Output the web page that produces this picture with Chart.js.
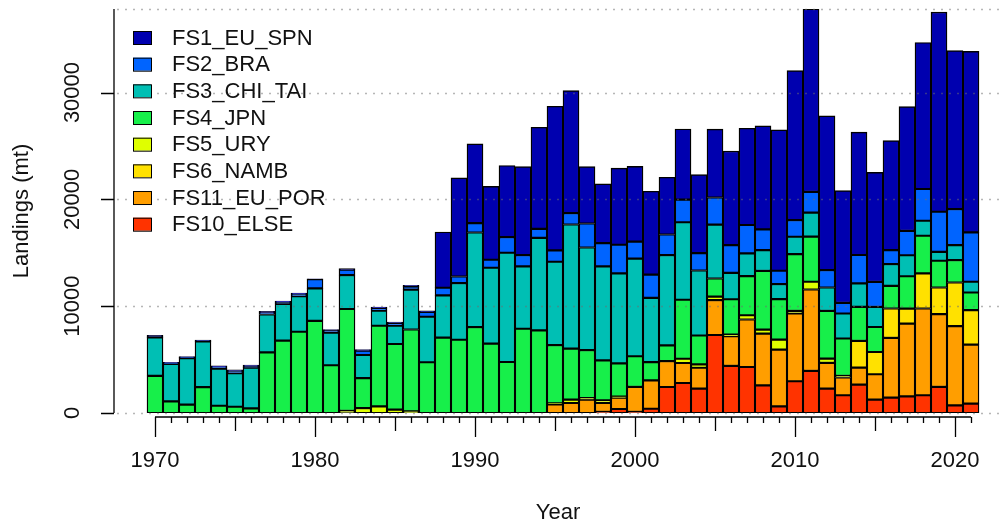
<!DOCTYPE html>
<html>
<head>
<meta charset="utf-8">
<title>Landings by fleet</title>
<script src="https://cdn.jsdelivr.net/npm/chart.js@4.4.1/dist/chart.umd.min.js"></script>
<style>
  html, body { margin: 0; padding: 0; background: #fff; }
  #wrap { width: 1001px; height: 527px; }
</style>
</head>
<body>
<div id="wrap"><canvas id="landings" width="1001" height="527"></canvas></div>
<script>
// landings (mt) per fleet, 1970-2021
const years = [1970, 1971, 1972, 1973, 1974, 1975, 1976, 1977, 1978, 1979,
               1980, 1981, 1982, 1983, 1984, 1985, 1986, 1987, 1988, 1989,
               1990, 1991, 1992, 1993, 1994, 1995, 1996, 1997, 1998, 1999,
               2000, 2001, 2002, 2003, 2004, 2005, 2006, 2007, 2008, 2009,
               2010, 2011, 2012, 2013, 2014, 2015, 2016, 2017, 2018, 2019,
               2020, 2021];

const fs1EuSpn = [150, 100, 100, 80, 100, 100, 150, 150, 100, 100,
                  50, 100, 100, 100, 100, 100, 100, 100, 5210, 9230,
                  7420, 6860, 6700, 8290, 9510, 13500, 11470, 5330, 5550, 7170,
                  7050, 7800, 5360, 6610, 7360, 6400, 8810, 9060, 9690, 13190,
                  14000, 17125, 14440, 10500, 11500, 10250, 10250, 11625, 13720, 18690,
                  14840, 16940];
const fs2Bra = [50, 50, 50, 40, 150, 200, 80, 150, 150, 200,
                850, 200, 500, 400, 250, 250, 300, 450, 720, 620,
                870, 750, 1470, 1060, 840, 1060, 1060, 2250, 2180, 2680,
                1590, 2180, 1930, 2120, 1620, 2530, 2590, 2660, 1940, 1250,
                1560, 1940, 1625, 1000, 2660, 2340, 1310, 2280, 2970, 3750,
                3375, 4625];
const fs3ChiTai = [3600, 3510, 4350, 4290, 3480, 3140, 3820, 3540, 3450, 3320,
                   3040, 3040, 3170, 2170, 1400, 1710, 3730, 4260, 3960, 5300,
                   8860, 7110, 10230, 5830, 8670, 7800, 11630, 9600, 8790, 8420,
                   9140, 6020, 8450, 7260, 6080, 5050, 2470, 2130, 1940, 1410,
                   1625, 2250, 2190, 2340, 2190, 1875, 2030, 1970, 1400, 840,
                   1400, 1000];
const fs4Jpn = [3480, 1090, 780, 2420, 680, 590, 430, 5680, 6770, 7610,
                8630, 4470, 9540, 2800, 7550, 6150, 7670, 4750, 7050, 6860,
                8040, 6490, 4770, 7890, 7730, 5460, 4770, 4490, 3740, 3120,
                2870, 1710, 1470, 5520, 2710, 1700, 3310, 3660, 5500, 3780,
                5310, 4220, 4470, 3500, 3190, 2340, 2125, 3030, 3530, 2500,
                2090, 1660];
const fs5Ury = [0, 0, 0, 0, 0, 0, 0, 0, 0, 0,
                0, 0, 200, 460, 620, 310, 150, 0, 0, 0,
                0, 0, 0, 0, 0, 100, 310, 150, 250, 100,
                0, 0, 0, 400, 310, 320, 150, 400, 375, 940,
                250, 720, 400, 150, 0, 0, 0, 0, 0, 0,
                0, 0];
const fs6Namb = [0, 0, 0, 0, 0, 0, 0, 0, 0, 0,
                 0, 0, 0, 0, 0, 0, 0, 0, 0, 0,
                 0, 0, 0, 0, 0, 0, 0, 0, 0, 0,
                 0, 0, 0, 0, 0, 0, 0, 0, 0, 0,
                 0, 0, 0, 0, 2500, 2090, 2750, 1400, 3280, 2500,
                 4090, 3220];
const fs11EuPor = [0, 0, 0, 0, 0, 0, 0, 0, 0, 0,
                   0, 0, 0, 0, 0, 0, 0, 0, 0, 0,
                   0, 0, 0, 0, 0, 800, 940, 1250, 840, 1060,
                   2340, 2650, 2430, 1870, 1960, 3270, 2780, 4440, 4840, 5310,
                   6340, 7625, 2410, 1660, 1590, 2375, 5590, 6810, 8125, 6810,
                   7410, 5530];
const fs10Else = [0, 0, 0, 0, 0, 0, 0, 0, 0, 0,
                  0, 0, 0, 0, 0, 0, 0, 0, 0, 0,
                  0, 0, 0, 0, 0, 0, 0, 0, 100, 370,
                  100, 400, 2430, 2810, 2280, 7300, 4410, 4310, 2590, 625,
                  2970, 3940, 2280, 1660, 2660, 1250, 1440, 1560, 1660, 2440,
                  720, 875];

const fleetNames = ['FS10_ELSE', 'FS11_EU_POR', 'FS6_NAMB', 'FS5_URY',
                    'FS4_JPN', 'FS3_CHI_TAI', 'FS2_BRA', 'FS1_EU_SPN'];
const fleetValues = [fs10Else, fs11EuPor, fs6Namb, fs5Ury,
                     fs4Jpn, fs3ChiTai, fs2Bra, fs1EuSpn];
const fleetColors = ['#FF3300', '#FF9E00', '#FFE100', '#DFFF00',
                     '#17EF4A', '#00BFB4', '#0064FF', '#0000AF'];

const xTickLabels = [1970, 1980, 1990, 2000, 2010, 2020];
const yTickLabels = [0, 10000, 20000, 30000];

const totals = years.map((_, i) => fleetValues.reduce((s, arr) => s + arr[i], 0));
const yTop = Math.max(...totals);
const gridLevels = [...yTickLabels, yTop];

const FONT = '22px "Liberation Sans", Arial, sans-serif';
const INK = '#111';

const datasets = fleetNames.map((name, k) => ({
  label: name,
  data: years.map((yr, i) => ({ x: yr, y: fleetValues[k][i] })),
  backgroundColor: fleetColors[k],
  borderColor: '#000',
  borderWidth: 1.4,
  borderSkipped: false,
  barPercentage: 1,
  categoryPercentage: 1
}));

// base-graphics style axes, dotted grid and the legend box list
const rStyle = {
  id: 'rStyle',
  afterDatasetsDraw(chart) {
    const { ctx, chartArea, scales: { y } } = chart;
    ctx.save();
    ctx.strokeStyle = 'rgba(110,110,110,0.5)';
    ctx.lineWidth = 1.6;
    ctx.setLineDash([2, 6]);
    gridLevels.forEach(v => {
      const py = Math.round(y.getPixelForValue(v)) + 0.5;
      ctx.beginPath();
      ctx.moveTo(chartArea.left + 2, py);
      ctx.lineTo(chartArea.right, py);
      ctx.stroke();
    });
    ctx.restore();
  },
  afterDraw(chart) {
    const { ctx, chartArea, scales: { x, y } } = chart;
    ctx.save();
    ctx.strokeStyle = '#000';
    ctx.fillStyle = INK;
    ctx.lineWidth = 1.3;
    ctx.font = FONT;

    // x axis
    const ax = chartArea.bottom + 4;
    ctx.beginPath();
    ctx.moveTo(x.getPixelForValue(years[0]), ax);
    ctx.lineTo(x.getPixelForValue(years[years.length - 1]), ax);
    years.forEach(yr => {
      const px = Math.round(x.getPixelForValue(yr)) + 0.5;
      const len = yr % 10 === 0 ? 20 : (yr % 5 === 0 ? 14 : 6);
      ctx.moveTo(px, ax);
      ctx.lineTo(px, ax + len);
    });
    ctx.stroke();
    ctx.textAlign = 'center';
    ctx.textBaseline = 'middle';
    xTickLabels.forEach(yr => ctx.fillText(String(yr), x.getPixelForValue(yr), 461));
    ctx.fillText('Year', (chartArea.left + chartArea.right) / 2, 513);

    // y axis
    const ay = chartArea.left - 1;
    ctx.beginPath();
    ctx.moveTo(ay, chartArea.top);
    ctx.lineTo(ay, y.getPixelForValue(0));
    yTickLabels.forEach(v => {
      const py = Math.round(y.getPixelForValue(v)) + 0.5;
      ctx.moveTo(ay, py);
      ctx.lineTo(ay - 13, py);
    });
    ctx.stroke();
    yTickLabels.forEach(v => {
      ctx.save();
      ctx.translate(73, y.getPixelForValue(v));
      ctx.rotate(-Math.PI / 2);
      ctx.fillText(String(v), 0, 0);
      ctx.restore();
    });
    ctx.save();
    ctx.translate(22, (chartArea.top + chartArea.bottom) / 2);
    ctx.rotate(-Math.PI / 2);
    ctx.fillText('Landings (mt)', 0, 0);
    ctx.restore();

    // legend, top fleet first
    ctx.textAlign = 'left';
    const order = fleetNames.map((_, k) => k).reverse();
    order.forEach((k, row) => {
      const cy = 37.5 + row * 26.67;
      ctx.fillStyle = fleetColors[k];
      ctx.fillRect(133, cy - 6.5, 18, 13);
      ctx.lineWidth = 1;
      ctx.strokeRect(133.5, cy - 6, 18, 13);
      ctx.fillStyle = INK;
      ctx.fillText(fleetNames[k], 172, cy + 1);
    });
    ctx.restore();
  }
};

new Chart(document.getElementById('landings'), {
  type: 'bar',
  data: { datasets },
  options: {
    responsive: false,
    devicePixelRatio: 1,
    animation: false,
    events: [],
    layout: { padding: { left: 115, right: 0, top: 9, bottom: 114 } },
    plugins: { legend: { display: false }, tooltip: { enabled: false } },
    scales: {
      x: { type: 'linear', stacked: true, display: false, offset: false, min: 1967.5, max: 2022.875 },
      y: { stacked: true, display: false, min: 0, max: yTop }
    }
  },
  plugins: [rStyle]
});
</script>
</body>
</html>
